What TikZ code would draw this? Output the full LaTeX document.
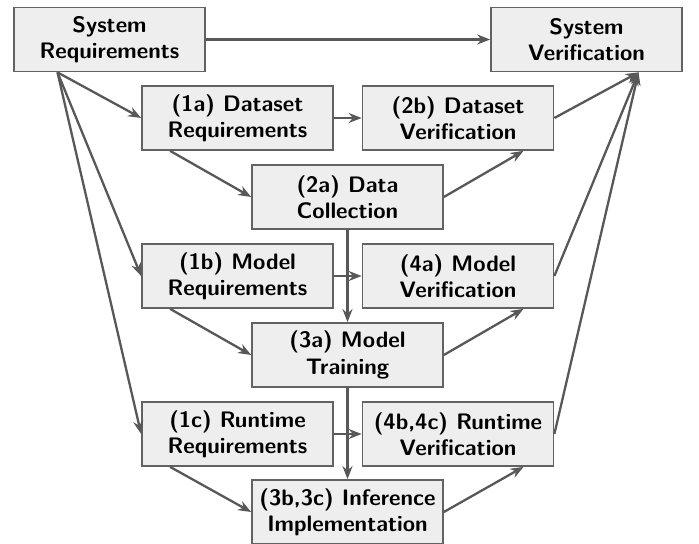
\documentclass[tikz,border=0pt]{standalone}
\usetikzlibrary{arrows.meta,calc}
\definecolor{boxfill}{HTML}{EEEEEE}
\definecolor{boxline}{HTML}{626262}
\definecolor{flow}{HTML}{585858}
\begin{document}
\begin{tikzpicture}[x=0.5pt,y=-0.5pt,
  stage/.style={draw=boxline,fill=boxfill,line width=0.85pt,
    minimum width=95.5pt,minimum height=32pt,inner sep=1pt,align=center,
    font=\fontsize{11.2}{13.2}\selectfont\sffamily\bfseries},
  link/.style={draw=flow,line width=1.15pt,-{Stealth[length=6.5pt,width=5pt]}}]
\useasboundingbox (0,0) rectangle (699,544);

% V-model stages
\node[stage] (sysreq) at (109.5,39.5) {System\\Requirements};
\node[stage] (sysver) at (586.5,39.5) {System\\Verification};
\node[stage] (r1a) at (237.5,118) {(1a) Dataset\\Requirements};
\node[stage] (v2b) at (458,118) {(2b) Dataset\\Verification};
\node[stage] (c2a) at (347.5,197) {(2a) Data\\Collection};
\node[stage] (r1b) at (237.5,276) {(1b) Model\\Requirements};
\node[stage] (v4a) at (458,276) {(4a) Model\\Verification};
\node[stage] (t3a) at (347.5,355) {(3a) Model\\Training};
\node[stage] (r1c) at (237.5,434) {(1c) Runtime\\Requirements};
\node[stage] (v4bc) at (458,434) {(4b,4c) Runtime\\Verification};
\node[stage] (i3bc) at (347.5,512) {(3b,3c) Inference\\Implementation};

% fan-out / fan-in points
\coordinate (sr) at ($(sysreq.south west)!0.23!(sysreq.south east)$);
\coordinate (sv) at ($(sysver.south east)!0.23!(sysver.south west)$);
\coordinate (o1a) at ($(r1a.south west)!0.15!(r1a.south east)$);
\coordinate (o1b) at ($(r1b.south west)!0.15!(r1b.south east)$);
\coordinate (o1c) at ($(r1c.south west)!0.15!(r1c.south east)$);
\coordinate (e2b) at ($(v2b.south west)!0.84!(v2b.south east)$);
\coordinate (e4a) at ($(v4a.south west)!0.84!(v4a.south east)$);
\coordinate (e4bc) at ($(v4bc.south west)!0.84!(v4bc.south east)$);

% top level
\draw[link] (sysreq.east) -- (sysver.west);
\draw[link] (sr) -- (r1a.west);
\draw[link] (sr) -- (r1b.west);
\draw[link] (sr) -- (r1c.west);

% dataset branch
\draw[link] (c2a.south) -- (t3a.north);
\draw[link] (r1a.east) -- (v2b.west);
\draw[link] (o1a) -- (c2a.west);
\draw[link] (c2a.east) -- (e2b);
\draw[link] (v2b.east) -- (sv);

% model branch
\draw[link] (t3a.south) -- (i3bc.north);
\draw[link] (r1b.east) -- (v4a.west);
\draw[link] (o1b) -- (t3a.west);
\draw[link] (t3a.east) -- (e4a);
\draw[link] (v4a.east) -- (sv);

% runtime branch
\draw[link] (r1c.east) -- (v4bc.west);
\draw[link] (o1c) -- (i3bc.west);
\draw[link] (i3bc.east) -- (e4bc);
\draw[link] (v4bc.east) -- (sv);
\end{tikzpicture}
\end{document}
